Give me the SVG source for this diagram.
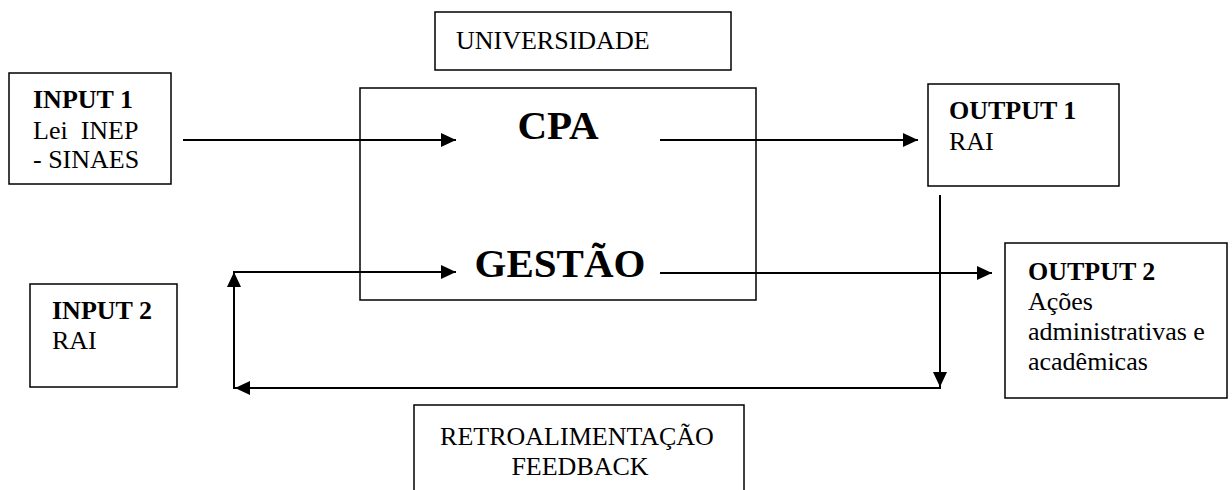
<svg xmlns="http://www.w3.org/2000/svg" width="1232" height="490" viewBox="0 0 1232 490">
<style>
text{font-family:"Liberation Serif","Times New Roman",serif;fill:#000;font-size:26px}
.b{font-weight:bold}
.big{font-weight:bold;font-size:41px}
rect{fill:#fff;stroke:#000;stroke-width:1.5}
.c{fill:none;stroke:#000;stroke-width:2}
</style>
<defs>
<marker id="ah" markerWidth="15" markerHeight="14" refX="15" refY="7" orient="auto" markerUnits="userSpaceOnUse" viewBox="0 0 15 14">
<path d="M0,0 L15,7 L0,14 Z" fill="#000"/>
</marker>
</defs>
<rect width="1232" height="490" fill="#fff" style="stroke:none"/>
<g id="universidade"><rect x="435" y="12" width="296" height="58"/><text x="456" y="49">UNIVERSIDADE</text></g>
<g id="cpa"><rect x="360" y="88" width="396" height="212"/><text class="big" x="558" y="139" text-anchor="middle">CPA</text><text class="big" x="560" y="277" text-anchor="middle">GESTÃO</text></g>
<g id="input1"><rect x="9" y="73" width="162" height="111"/><text class="b" x="33" y="108">INPUT 1</text><text x="33" y="139" xml:space="preserve">Lei  INEP</text><text x="33" y="168">- SINAES</text></g>
<g id="output1"><rect x="928" y="84" width="191" height="102"/><text class="b" x="949" y="119">OUTPUT 1</text><text x="949" y="150">RAI</text></g>
<g id="input2"><rect x="30" y="284" width="147" height="103"/><text class="b" x="52" y="319">INPUT 2</text><text x="52" y="349">RAI</text></g>
<g id="output2"><rect x="1005" y="243" width="222" height="155"/><text class="b" x="1028" y="280">OUTPUT 2</text><text x="1028" y="310">Ações</text><text x="1028" y="340">administrativas e</text><text x="1028" y="370">acadêmicas</text></g>
<g id="feedback"><rect x="414" y="405" width="330" height="100"/><text x="577" y="445" text-anchor="middle">RETROALIMENTAÇÃO</text><text x="580" y="475" text-anchor="middle">FEEDBACK</text></g>
<g id="connectors">
<line class="c" x1="183" y1="140" x2="456" y2="140" marker-end="url(#ah)"/>
<line class="c" x1="660" y1="140" x2="918" y2="140" marker-end="url(#ah)"/>
<line class="c" x1="660" y1="273" x2="992" y2="273" marker-end="url(#ah)"/>
<line class="c" x1="940" y1="195" x2="940" y2="387" marker-end="url(#ah)"/>
<line class="c" x1="941" y1="388" x2="235" y2="388" marker-end="url(#ah)"/>
<line class="c" x1="234" y1="389" x2="234" y2="272" marker-end="url(#ah)"/>
<line class="c" x1="233" y1="272" x2="456" y2="272" marker-end="url(#ah)"/>
</g>
</svg>
